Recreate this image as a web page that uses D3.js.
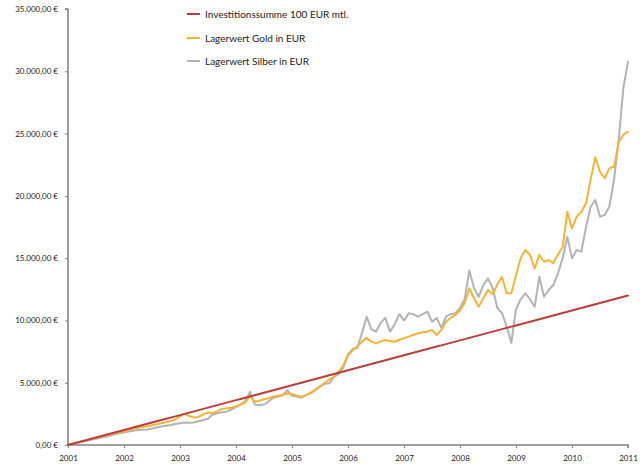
<!DOCTYPE html>
<html><head><meta charset="utf-8">
<script src="https://cdn.jsdelivr.net/npm/d3@7"></script>
<style>body{margin:0;background:#fff}svg{display:block}</style>
</head><body>
<script>
const startYear = 2001;
const yearTicks = [2001,2002,2003,2004,2005,2006,2007,2008,2009,2010,2011];
const yTicks = [0,5000,10000,15000,20000,25000,30000,35000];
const seriesNames = ["Investitionssumme 100 EUR mtl.","Lagerwert Gold in EUR","Lagerwert Silber in EUR"];
const seriesColors = ["#b8403c","#f6b437","#b3b3b3"];

const investment = [0,100,200,300,400,500,600,700,800,900,1000,1100,
1200,1300,1400,1500,1600,1700,1800,1900,2000,2100,2200,2300,
2400,2500,2600,2700,2800,2900,3000,3100,3200,3300,3400,3500,
3600,3700,3800,3900,4000,4100,4200,4300,4400,4500,4600,4700,
4800,4900,5000,5100,5200,5300,5400,5500,5600,5700,5800,5900,
6000,6100,6200,6300,6400,6500,6600,6700,6800,6900,7000,7100,
7200,7300,7400,7500,7600,7700,7800,7900,8000,8100,8200,8300,
8400,8500,8600,8700,8800,8900,9000,9100,9200,9300,9400,9500,
9600,9700,9800,9900,10000,10100,10200,10300,10400,10500,10600,10700,
10800,10900,11000,11100,11200,11300,11400,11500,11600,11700,11800,11900,
12000];

const gold = [0,95,190,280,370,470,560,650,760,870,960,1050,
1110,1200,1300,1380,1450,1510,1580,1660,1740,1820,1920,2060,
2300,2500,2330,2200,2250,2450,2600,2550,2700,2900,2950,3000,
3100,3250,3400,3950,3480,3550,3670,3750,3880,3950,4010,4150,
4100,3950,3880,4000,4150,4400,4680,5000,5250,5480,5900,6400,
7200,7600,7900,8300,8600,8300,8160,8300,8430,8350,8290,8450,
8570,8700,8850,8970,9050,9100,9230,8830,9230,9900,10200,10430,
10800,11400,12580,11800,11100,11780,12440,12100,12900,13500,12180,12180,
13600,15000,15650,15250,14180,15250,14710,14850,14590,15300,15900,18730,
17390,18330,18700,19400,21300,23100,21940,21410,22210,22340,24300,24900,
25150];

const silver = [0,90,180,260,340,420,500,580,660,750,850,950,
1000,1080,1150,1200,1220,1250,1330,1400,1480,1550,1600,1680,
1750,1800,1780,1800,1900,2000,2100,2450,2550,2620,2680,2850,
3050,3250,3500,4280,3250,3200,3250,3500,3800,3880,4000,4400,
3950,3900,3800,4000,4200,4450,4700,4900,4950,5450,5700,6200,
7300,7700,7800,9000,10300,9300,9100,9800,10200,9100,9700,10500,
10000,10570,10500,10300,10500,10700,9900,10200,9400,10300,10500,10570,
11000,11700,14000,12600,11900,12840,13380,12600,11000,10600,9500,8200,
10900,11700,12180,11700,11100,13510,11900,12440,12840,13780,15000,16720,
14990,15650,15520,17500,19130,19670,18330,18460,19130,21270,24480,28630,
30770];

const W = 640, H = 468;
const svg = d3.select("body").append("svg").attr("width", W).attr("height", H);
const x = d3.scaleLinear().domain([2001, 2011]).range([68, 628]);
const y = d3.scaleLinear().domain([0, 35000]).range([445, 9]);

const loc = d3.formatLocale({decimal: ",", thousands: ".", grouping: [3], currency: ["", " €"]});
const fmt = loc.format("$,.2f");

const font = "Lato, 'Open Sans', sans-serif";
const axisColor = "#808080";
const textColor = "#222";

const yAxis = svg.append("g").attr("transform", "translate(68,0)")
  .call(d3.axisLeft(y).tickValues(yTicks).tickFormat(fmt).tickSize(3).tickPadding(7));
const xAxis = svg.append("g").attr("transform", "translate(0,445)")
  .call(d3.axisBottom(x).tickValues(yearTicks).tickFormat(d3.format("d")).tickSize(3).tickPadding(7));
[yAxis, xAxis].forEach(g => {
  g.select(".domain").attr("stroke", axisColor).attr("stroke-width", 1.5);
  g.selectAll(".tick line").attr("stroke", axisColor);
  g.selectAll("text").attr("fill", textColor).style("font-family", font).style("font-size", "8px");
});
yAxis.select(".domain").attr("d", `M-3,${y(35000)}H0V${y(0)}`);
xAxis.select(".domain").attr("d", `M${x(2001)},0H${x(2011)}V3`);

const line = d3.line().x((d, i) => x(startYear + i / 12)).y(d => y(d)).curve(d3.curveLinear);
const allSeries = [investment, gold, silver];
[2, 1, 0].forEach(k => {
  svg.append("path").datum(allSeries[k]).attr("d", line)
    .attr("fill", "none").attr("stroke", seriesColors[k]).attr("stroke-width", 2)
    .attr("stroke-linejoin", "round").attr("stroke-linecap", "round");
});

const legend = svg.append("g");
const legendY = [14, 38, 61];
seriesNames.forEach((name, i) => {
  legend.append("line").attr("x1", 187).attr("x2", 200).attr("y1", legendY[i]).attr("y2", legendY[i])
    .attr("stroke", seriesColors[i]).attr("stroke-width", 2);
  legend.append("text").attr("x", 205).attr("y", legendY[i] + 3.5).text(name)
    .attr("fill", textColor).style("font-family", font).style("font-size", "10px");
});
</script>
</body></html>
